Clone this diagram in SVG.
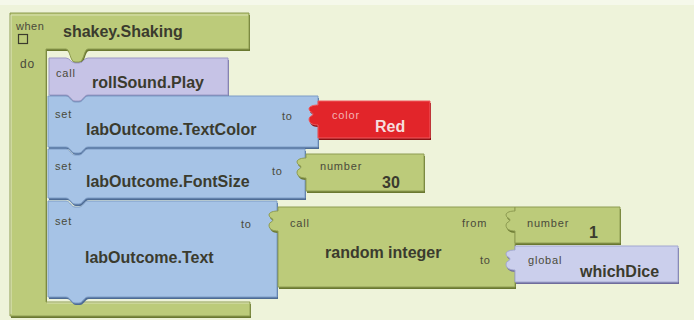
<svg xmlns="http://www.w3.org/2000/svg" width="694" height="320" viewBox="0 0 694 320">
<style>
.lbl{font-family:"Liberation Sans",Arial,sans-serif;font-size:11px;fill:#4a4a3a;letter-spacing:0.8px}
.nm{font-family:"Liberation Sans",Arial,sans-serif;font-size:16px;font-weight:bold;fill:#3b3b2e}
.g{fill:#bccb7a;stroke:#8e9c52;stroke-width:1}
.gs{fill:#6a7830}
.b{fill:#a6c3e6;stroke:#7d9cc6;stroke-width:1}
.bs{fill:#4d6b94}
.p{fill:#c6c3e6;stroke:#9d99c6;stroke-width:1}
.ps{fill:#6f6c9c}
.v{fill:#cbcfec;stroke:#a2a7d0;stroke-width:1}
.r{fill:#e2252a;stroke:#f05a5e;stroke-width:1}
.rs{fill:#8c1013}
.hl{fill:none;stroke:#ffffff;stroke-opacity:0.45;stroke-width:1.2}
</style>
<rect width="694" height="320" fill="#eef3da"/>
<rect x="0" y="0" width="694" height="5" fill="#f5f8ea"/>

<g id="event-shakey-shaking">
<path class="gs" transform="translate(1,2)" d="M10,13 H249 V49 H88 C84,49 84,62 79,62 H75 C70,62 70,49 66,49 H46 V302 H250 V316 H10 Z"/>
<path class="g" d="M10,13 H249 V49 H88 C84,49 84,62 79,62 H75 C70,62 70,49 66,49 H46 V302 H250 V316 H10 Z"/>
<path class="hl" d="M11,15 H248 M11,15 V314 M47,303 H249"/>
<text class="lbl" x="16" y="30" style="letter-spacing:0.5px">when</text>
<rect x="18.5" y="34.5" width="9" height="9" fill="none" stroke="#3b3b2e" stroke-width="1.2"/>
<text class="nm" x="63" y="37">shakey.Shaking</text>
<text class="lbl" x="20" y="68" style="font-size:12px">do</text>
</g>

<g id="call-rollsound-play">
<path class="ps" transform="translate(1,2)" d="M49,58 H66 C70,58 71,63 75,63 H79 C83,63 84,58 88,58 H228 V95 H88 C84,95 83,101 79,101 H75 C71,101 70,95 66,95 H49 Z"/>
<path class="p" d="M49,58 H66 C70,58 71,63 75,63 H79 C83,63 84,58 88,58 H228 V95 H88 C84,95 83,101 79,101 H75 C71,101 70,95 66,95 H49 Z"/>
<text class="lbl" x="56" y="77">call</text>
<text class="nm" x="92" y="88">rollSound.Play</text>
</g>

<g id="set-textcolor">
<path class="bs" transform="translate(1,2)" d="M48,96 H66 C70,96 71,102 75,102 H79 C83,102 84,96 88,96 H318 V147 H88 C84,147 83,153 79,153 H75 C71,153 70,147 66,147 H48 Z"/>
<path class="b" d="M48,96 H66 C70,96 71,102 75,102 H79 C83,102 84,96 88,96 H318 V147 H88 C84,147 83,153 79,153 H75 C71,153 70,147 66,147 H48 Z"/>
<text class="lbl" x="55" y="118">set</text>
<text class="lbl" x="282" y="120">to</text>
<text class="nm" x="86" y="135">labOutcome.TextColor</text>
</g>

<g id="color-red">
<path class="rs" transform="translate(1,2)" d="M318,101 H430 V138 H318 V125 C314,125 309,124 309,119 C309,116 313,116 313,114 C313,112 309,112 309,109 C309,106 314,105 318,105 Z"/>
<path class="r" d="M318,101 H430 V138 H318 V125 C314,125 309,124 309,119 C309,116 313,116 313,114 C313,112 309,112 309,109 C309,106 314,105 318,105 Z"/>
<text class="lbl" x="332" y="119" style="fill:#f4b4b4">color</text>
<text class="nm" x="375" y="132" style="fill:#f6dede">Red</text>
</g>

<g id="set-fontsize">
<path class="bs" transform="translate(1,2)" d="M48,149 H66 C70,149 71,155 75,155 H79 C83,155 84,149 88,149 H305 V198 H88 C84,198 83,204 79,204 H75 C71,204 70,198 66,198 H48 Z"/>
<path class="b" d="M48,149 H66 C70,149 71,155 75,155 H79 C83,155 84,149 88,149 H305 V198 H88 C84,198 83,204 79,204 H75 C71,204 70,198 66,198 H48 Z"/>
<text class="lbl" x="55" y="170">set</text>
<text class="lbl" x="272" y="175">to</text>
<text class="nm" x="86" y="187">labOutcome.FontSize</text>
</g>

<g id="number-30">
<path class="gs" transform="translate(1,2)" d="M306,154 H424 V191 H306 V178 C302,178 297,177 297,172 C297,169 301,169 301,167 C301,165 297,165 297,162 C297,159 302,158 306,158 Z"/>
<path class="g" d="M306,154 H424 V191 H306 V178 C302,178 297,177 297,172 C297,169 301,169 301,167 C301,165 297,165 297,162 C297,159 302,158 306,158 Z"/>
<text class="lbl" x="320" y="170">number</text>
<text class="nm" x="382" y="188">30</text>
</g>

<g id="set-text">
<path class="bs" transform="translate(1,2)" d="M48,201 H66 C70,201 71,207 75,207 H79 C83,207 84,201 88,201 H277 V297 H88 C84,297 83,303 79,303 H75 C71,303 70,297 66,297 H48 Z"/>
<path class="b" d="M48,201 H66 C70,201 71,207 75,207 H79 C83,207 84,201 88,201 H277 V297 H88 C84,297 83,303 79,303 H75 C71,303 70,297 66,297 H48 Z"/>
<text class="lbl" x="55" y="225">set</text>
<text class="lbl" x="241" y="228">to</text>
<text class="nm" x="85" y="263">labOutcome.Text</text>
</g>

<g id="random-integer">
<path class="gs" transform="translate(1,2)" d="M278,207 H515 V287 H278 V231 C274,231 269,230 269,225 C269,222 273,222 273,220 C273,218 269,218 269,215 C269,212 274,211 278,211 Z"/>
<path class="g" d="M278,207 H515 V287 H278 V231 C274,231 269,230 269,225 C269,222 273,222 273,220 C273,218 269,218 269,215 C269,212 274,211 278,211 Z"/>
<text class="lbl" x="290" y="227">call</text>
<text class="lbl" x="462" y="227">from</text>
<text class="lbl" x="480" y="264">to</text>
<text class="nm" x="325" y="258">random integer</text>
</g>

<g id="number-1">
<path class="gs" transform="translate(1,2)" d="M515,207 H620 V243 H515 V231 C511,231 506,230 506,225 C506,222 510,222 510,220 C510,218 506,218 506,215 C506,212 511,211 515,211 Z"/>
<path class="g" d="M515,207 H620 V243 H515 V231 C511,231 506,230 506,225 C506,222 510,222 510,220 C510,218 506,218 506,215 C506,212 511,211 515,211 Z"/>
<text class="lbl" x="527" y="227">number</text>
<text class="nm" x="589" y="238">1</text>
</g>

<g id="global-whichdice">
<path class="ps" transform="translate(1,2)" d="M515,246 H678 V282 H515 V270 C511,270 506,269 506,264 C506,261 510,261 510,259 C510,257 506,257 506,254 C506,251 511,250 515,250 Z"/>
<path class="v" d="M515,246 H678 V282 H515 V270 C511,270 506,269 506,264 C506,261 510,261 510,259 C510,257 506,257 506,254 C506,251 511,250 515,250 Z"/>
<text class="lbl" x="528" y="264">global</text>
<text class="nm" x="580" y="277">whichDice</text>
</g>
</svg>
